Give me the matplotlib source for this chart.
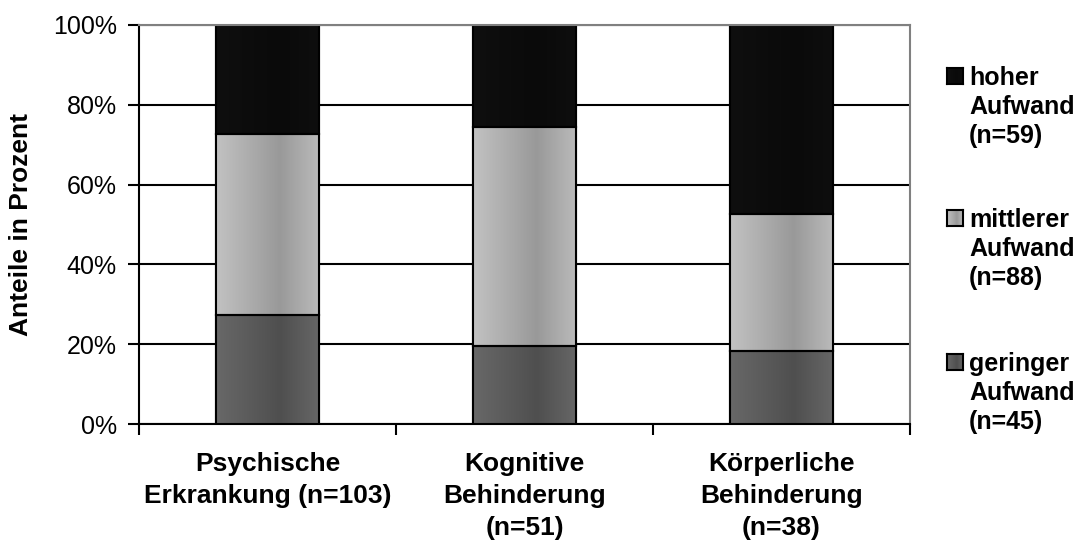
import numpy as np
import matplotlib
matplotlib.use("Agg")
import matplotlib.pyplot as plt
from matplotlib.colors import LinearSegmentedColormap

plt.rcParams['font.family'] = ['Liberation Sans', 'DejaVu Sans']

categories = ["Psychische\nErkrankung (n=103)", "Kognitive\nBehinderung\n(n=51)", "Körperliche\nBehinderung\n(n=38)"]
series_names = ["geringer\nAufwand\n(n=45)", "mittlerer\nAufwand\n(n=88)", "hoher\nAufwand\n(n=59)"]
geringer = [27.2, 19.6, 18.4]
mittlerer = [45.6, 54.9, 34.2]
hoher = [27.2, 25.5, 47.4]
yticks = [0, 20, 40, 60, 80, 100]
ytick_labels = ["0%", "20%", "40%", "60%", "80%", "100%"]

# gradient colour stops per series (left, mid-dark, right)
grad = {
    0: ["#686868", "#4f4f4f", "#666666"],
    1: ["#c2c2c2", "#999999", "#bababa"],
    2: ["#0f0f0f", "#0a0a0a", "#0e0e0e"],
}
base_col = ["#5a5a5a", "#b0b0b0", "#0d0d0d"]

W, H = 1079, 545
fig = plt.figure(figsize=(W / 100, H / 100), dpi=100)
ax = fig.add_axes([139 / W, 1 - 424 / H, (910 - 139) / W, (424 - 25) / H])

x = np.arange(len(categories))
width = 0.4
series = [geringer, mittlerer, hoher]
cmaps = []
bottom = np.zeros(len(categories))
for i, vals in enumerate(series):
    bars = ax.bar(x, vals, width, bottom=bottom, color=base_col[i],
                  edgecolor="black", linewidth=1.5, zorder=3)
    cmap = LinearSegmentedColormap.from_list("g%d" % i,
                                             [(0, grad[i][0]), (0.62, grad[i][1]), (1, grad[i][2])])
    cmaps.append(cmap)
    g = np.linspace(0, 1, 256).reshape(1, -1)
    for b in bars:
        x0, y0 = b.get_x(), b.get_y()
        w, h = b.get_width(), b.get_height()
        im = ax.imshow(g, cmap=cmap, extent=[x0, x0 + w, y0, y0 + h],
                       aspect="auto", zorder=3.5, interpolation="bilinear")
        im.set_clip_path(b)
        ax.add_patch(plt.Rectangle((x0, y0), w, h, fill=False, edgecolor="black",
                                   linewidth=1.5, zorder=4))
    bottom += np.array(vals)

ax.set_xlim(-0.5, len(categories) - 0.5)
ax.set_ylim(0, 100)
ax.set_yticks(yticks)
ax.set_yticklabels(ytick_labels, fontsize=18)
ax.yaxis.grid(True, color="black", linewidth=1.5, zorder=0)
ax.set_axisbelow(True)

ax.set_xticks(np.arange(-0.5, len(categories), 1.0))
ax.set_xticklabels([])
ax.set_xticks(x, minor=True)
ax.set_xticklabels(categories, minor=True, fontsize=19, fontweight="bold")
for t in ax.get_xticklabels(minor=True):
    t.set_linespacing(1.44)
ax.tick_params(axis="x", which="minor", length=0, pad=20)
ax.tick_params(axis="x", which="major", length=8, width=1.5, direction="out")
ax.tick_params(axis="y", length=8, width=1.5, direction="out", pad=8)

for s in ["left", "bottom"]:
    ax.spines[s].set_color("black")
    ax.spines[s].set_linewidth(1.5)
for s in ["top", "right"]:
    ax.spines[s].set_color("#808080")
    ax.spines[s].set_linewidth(1.5)
ax.spines["top"].set_zorder(5)

ax.set_ylabel("Anteile in Prozent", fontsize=19, fontweight="bold")
ax.yaxis.set_label_coords(33 / W, 1 - 224.5 / H, transform=fig.transFigure)

# manual legend (hoher on top), positions in figure pixels
leg_first_line_y = [362, 218, 76]   # geringer, mittlerer, hoher
for i, name in enumerate(series_names):
    yc = leg_first_line_y[i]
    sq = 16
    g = np.linspace(0, 1, 64).reshape(1, -1)
    axl = fig.add_axes([947 / W, 1 - (yc + sq / 2) / H, sq / W, sq / H])
    axl.imshow(g, cmap=cmaps[i], aspect="auto", extent=[0, 1, 0, 1])
    axl.set_xticks([]); axl.set_yticks([])
    for s in axl.spines.values():
        s.set_linewidth(1.5); s.set_color("black")
    fig.text(969 / W, 1 - (yc - 10) / H, name, fontsize=18, fontweight="bold",
             ha="left", va="top", linespacing=1.27)

fig.savefig("out.png", dpi=100)
